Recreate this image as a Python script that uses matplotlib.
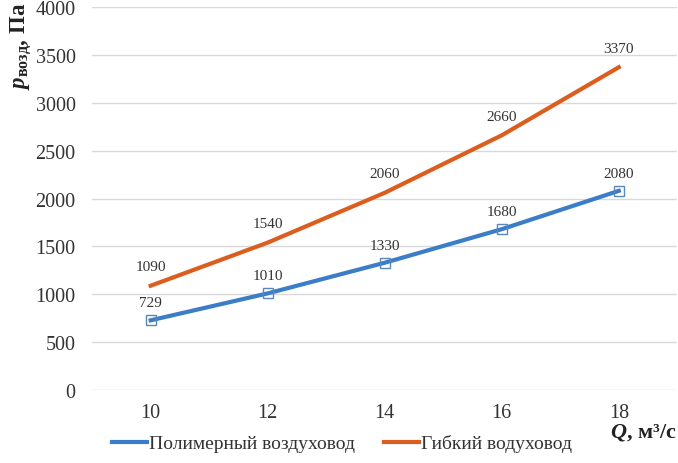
import matplotlib
matplotlib.use("Agg")
import matplotlib.pyplot as plt
from matplotlib.lines import Line2D

plt.rcParams['font.family'] = ['Liberation Serif', 'DejaVu Serif']
plt.rcParams['mathtext.fontset'] = 'custom'
plt.rcParams['mathtext.rm'] = 'Liberation Serif'
plt.rcParams['mathtext.it'] = 'Liberation Serif:italic'
plt.rcParams['mathtext.bf'] = 'Liberation Serif:bold'
plt.rcParams['mathtext.bfit'] = 'Liberation Serif:bold:italic'

# data
q_labels = ['10', '12', '14', '16', '18']
polymer = [729, 1010, 1330, 1680, 2080]
flexible = [1090, 1540, 2060, 2660, 3370]
y_ticks = [0, 500, 1000, 1500, 2000, 2500, 3000, 3500, 4000]
names = ['Полимерный воздуховод', 'Гибкий водуховод']

blue = '#3b7dc6'
orange = '#dc5e1f'

fig = plt.figure(figsize=(6.78, 4.64), dpi=100)
ax = fig.add_axes([0.136, 0.157, 0.863, 0.826])

x = list(range(len(q_labels)))
ax.plot(x, polymer, color=blue, lw=3, zorder=3)
ax.plot(x, polymer, ls='none', marker='s', ms=7, mfc='none',
        mec='#5a86b8', mew=1, zorder=4)
ax.plot(x, flexible, color=orange, lw=3, zorder=3)

for xi, v in zip(x, polymer):
    ax.annotate(str(v), (xi, v), xytext=(0, 8), textcoords='offset points',
                ha='center', va='bottom', fontsize=11, color='#333333')
for xi, v in zip(x, flexible):
    ax.annotate(str(v), (xi, v), xytext=(0, 9), textcoords='offset points',
                ha='center', va='bottom', fontsize=11, color='#333333')

ax.set_xlim(-0.5, len(q_labels) - 0.5)
ax.set_ylim(0, 4000)
ax.set_xticks(x)
ax.set_xticklabels(q_labels)
ax.set_yticks(y_ticks)
ax.tick_params(length=0, labelsize=14.5, colors='#333333')
ax.tick_params(axis='y', pad=12)
ax.tick_params(axis='x', pad=9)
ax.grid(axis='y', color='#d9d9d9', lw=1)
ax.set_axisbelow(True)
for s in ax.spines.values():
    s.set_visible(False)

fig.text(0.012, 0.995, r'$\mathbfit{p}_{\mathbf{возд}}$, Па', rotation=90,
         ha='left', va='top', fontsize=16.5, fontweight='bold', color='#222222')
fig.text(0.998, 0.068, r'$\mathbfit{Q}$, м³/с', ha='right', va='center',
         fontsize=16, fontweight='bold', color='#222222')

handles = [Line2D([], [], color=blue, lw=3), Line2D([], [], color=orange, lw=3)]
fig.legend(handles, names, loc='lower center', bbox_to_anchor=(0.505, -0.015), ncol=2,
           frameon=False, fontsize=14, handlelength=1.8, handletextpad=0.1,
           columnspacing=1.5, labelcolor='#333333')

fig.savefig('out.png', dpi=100)
